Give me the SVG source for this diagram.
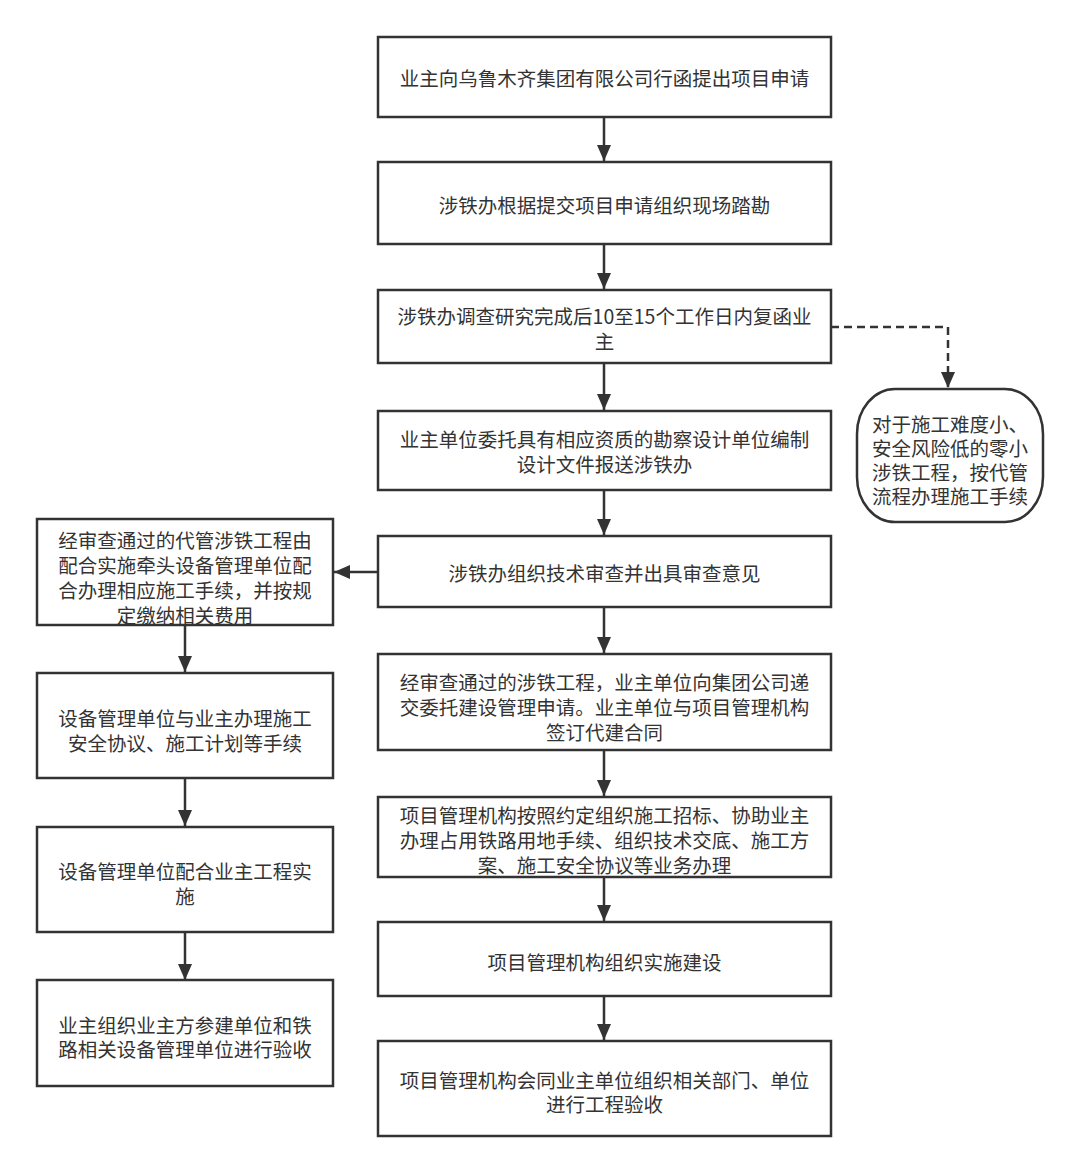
<svg xmlns="http://www.w3.org/2000/svg" width="1080" height="1173" viewBox="0 0 1080 1173">
<style>
.box{fill:#fff;stroke:#333;stroke-width:2.5}
.t{font-family:"Noto Sans CJK SC","Microsoft YaHei",sans-serif;font-size:19.5px;fill:#333;text-anchor:middle;dominant-baseline:central}
.c{fill:none;stroke:#333;stroke-width:2.5}
.d{fill:none;stroke:#333;stroke-width:2.5;stroke-dasharray:8 5}
</style>
<defs>
<marker id="ah" markerUnits="userSpaceOnUse" markerWidth="16" markerHeight="14" refX="16" refY="7" orient="auto">
<path d="M0,0 L16,7 L0,14 z" fill="#333"/>
</marker>
</defs>
<rect width="1080" height="1173" fill="#fff"/>
<g id="connectors">
<line class="c" x1="604" y1="117" x2="604" y2="161" marker-end="url(#ah)"/>
<line class="c" x1="604" y1="244" x2="604" y2="289" marker-end="url(#ah)"/>
<line class="c" x1="604" y1="363" x2="604" y2="410" marker-end="url(#ah)"/>
<line class="c" x1="604" y1="490" x2="604" y2="535" marker-end="url(#ah)"/>
<line class="c" x1="604" y1="607" x2="604" y2="653" marker-end="url(#ah)"/>
<line class="c" x1="604" y1="750" x2="604" y2="796" marker-end="url(#ah)"/>
<line class="c" x1="604" y1="877" x2="604" y2="921" marker-end="url(#ah)"/>
<line class="c" x1="604" y1="996" x2="604" y2="1040" marker-end="url(#ah)"/>
<line class="c" x1="378" y1="572" x2="334" y2="572" marker-end="url(#ah)"/>
<line class="c" x1="185" y1="625" x2="185" y2="672" marker-end="url(#ah)"/>
<line class="c" x1="185" y1="778" x2="185" y2="826" marker-end="url(#ah)"/>
<line class="c" x1="185" y1="932" x2="185" y2="980" marker-end="url(#ah)"/>
<polyline class="d" points="831,327 948,327 948,388" marker-end="url(#ah)"/>
</g>
<g id="n1"><rect class="box" x="378" y="37" width="453" height="80"/><text class="t" x="604.5" y="77">业主向乌鲁木齐集团有限公司行函提出项目申请</text></g>
<g id="n2"><rect class="box" x="378" y="162" width="453" height="82"/><text class="t" x="604.5" y="204">涉铁办根据提交项目申请组织现场踏勘</text></g>
<g id="n3"><rect class="box" x="378" y="290" width="453" height="73"/><text class="t" x="604.5" y="315">涉铁办调查研究完成后10至15个工作日内复函业</text><text class="t" x="604.5" y="340">主</text></g>
<g id="n4"><rect class="box" x="378" y="411" width="453" height="79"/><text class="t" x="604.5" y="438">业主单位委托具有相应资质的勘察设计单位编制</text><text class="t" x="604.5" y="463">设计文件报送涉铁办</text></g>
<g id="n5"><rect class="box" x="378" y="536" width="453" height="71"/><text class="t" x="604.5" y="572">涉铁办组织技术审查并出具审查意见</text></g>
<g id="n6"><rect class="box" x="378" y="654" width="453" height="96"/><text class="t" x="604.5" y="681">经审查通过的涉铁工程，业主单位向集团公司递</text><text class="t" x="604.5" y="706">交委托建设管理申请。业主单位与项目管理机构</text><text class="t" x="604.5" y="731">签订代建合同</text></g>
<g id="n7"><rect class="box" x="378" y="797" width="453" height="80"/><text class="t" x="604.5" y="814">项目管理机构按照约定组织施工招标、协助业主</text><text class="t" x="604.5" y="839">办理占用铁路用地手续、组织技术交底、施工方</text><text class="t" x="604.5" y="864">案、施工安全协议等业务办理</text></g>
<g id="n8"><rect class="box" x="378" y="922" width="453" height="74"/><text class="t" x="604.5" y="961">项目管理机构组织实施建设</text></g>
<g id="n9"><rect class="box" x="378" y="1041" width="453" height="95"/><text class="t" x="604.5" y="1079">项目管理机构会同业主单位组织相关部门、单位</text><text class="t" x="604.5" y="1103">进行工程验收</text></g>
<g id="side"><rect class="box" x="857" y="389" width="186" height="133" rx="38" ry="45"/><text class="t" x="950" y="423">对于施工难度小、</text><text class="t" x="950" y="447">安全风险低的零小</text><text class="t" x="950" y="471">涉铁工程，按代管</text><text class="t" x="950" y="495">流程办理施工手续</text></g>
<g id="l1"><rect class="box" x="37" y="519" width="296" height="106"/><text class="t" x="185" y="539">经审查通过的代管涉铁工程由</text><text class="t" x="185" y="564">配合实施牵头设备管理单位配</text><text class="t" x="185" y="589">合办理相应施工手续，并按规</text><text class="t" x="185" y="614">定缴纳相关费用</text></g>
<g id="l2"><rect class="box" x="37" y="673" width="296" height="105"/><text class="t" x="185" y="717">设备管理单位与业主办理施工</text><text class="t" x="185" y="742">安全协议、施工计划等手续</text></g>
<g id="l3"><rect class="box" x="37" y="827" width="296" height="105"/><text class="t" x="185" y="870">设备管理单位配合业主工程实</text><text class="t" x="185" y="895">施</text></g>
<g id="l4"><rect class="box" x="37" y="980" width="296" height="106"/><text class="t" x="185" y="1024">业主组织业主方参建单位和铁</text><text class="t" x="185" y="1048">路相关设备管理单位进行验收</text></g>
</svg>
